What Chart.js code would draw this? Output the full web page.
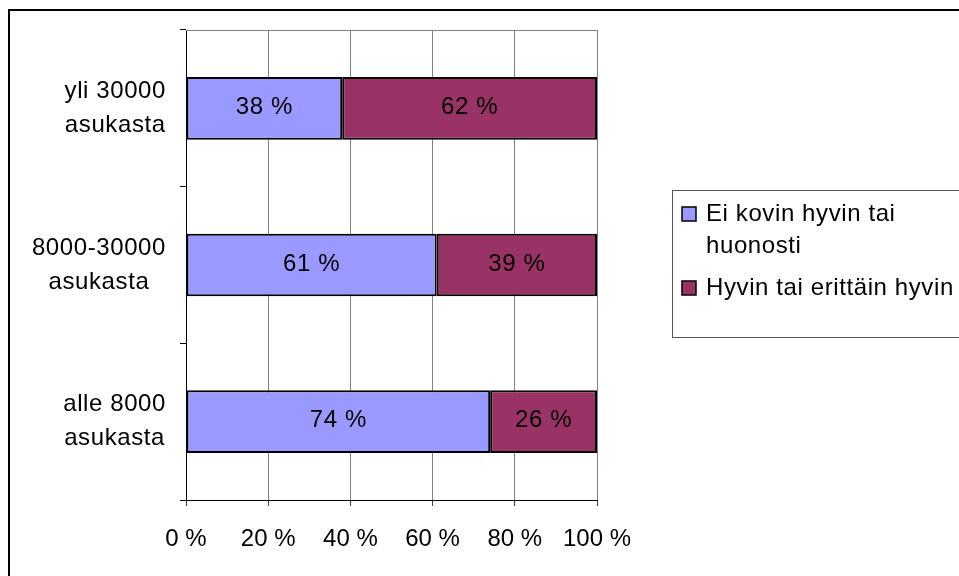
<!DOCTYPE html>
<html>
<head>
<meta charset="utf-8">
<script src="https://cdn.jsdelivr.net/npm/chart.js@4/dist/chart.umd.min.js"></script>
<style>
  html, body { margin: 0; padding: 0; background: #fff; }
  canvas { display: block; }
</style>
</head>
<body>
<canvas id="chart" width="959" height="576"></canvas>
<script>
const categories = [
  ["yli 30000", "asukasta"],
  ["8000-30000", "asukasta"],
  ["alle 8000", "asukasta"]
];
const seriesNames = ["Ei kovin hyvin tai huonosti", "Hyvin tai erittäin hyvin"];
const legendLines = [["Ei kovin hyvin tai", "huonosti"], ["Hyvin tai erittäin hyvin"]];
const notWell = [38, 61, 74];
const well = [62, 39, 26];
const xTicks = [0, 20, 40, 60, 80, 100];

const FONT = "'Liberation Sans', Arial, sans-serif";
const colors = ["#9999FF", "#993366"];

// outer frame, plot top border, y labels, bar values, legend
const extras = {
  id: "extras",
  beforeInit(chart) {
    chart.ctx.letterSpacing = "0.6px";
  },
  beforeDatasetsDraw(chart) {
    const ctx = chart.ctx, a = chart.chartArea;
    ctx.save();
    ctx.strokeStyle = "#808080";
    ctx.lineWidth = 1;
    ctx.beginPath();
    ctx.moveTo(a.left, a.top + 0.5);
    ctx.lineTo(a.right, a.top + 0.5);
    ctx.stroke();
    ctx.restore();
  },
  afterDraw(chart) {
    const ctx = chart.ctx;
    ctx.save();
    ctx.letterSpacing = "0.6px";
    ctx.fillStyle = "#000";
    ctx.font = "24px " + FONT;
    ctx.textBaseline = "middle";

    // y labels: lines centred on each other, block right aligned
    const yScale = chart.scales.y;
    categories.forEach((lines, i) => {
      const cy = yScale.getPixelForValue(i);
      const w = Math.max(...lines.map(l => ctx.measureText(l).width));
      const cx = 166 - w / 2;
      ctx.textAlign = "center";
      lines.forEach((l, j) => {
        ctx.fillText(l, cx, cy + (j - (lines.length - 1) / 2) * 34);
      });
    });

    // value labels in the bars
    chart.data.datasets.forEach((ds, di) => {
      chart.getDatasetMeta(di).data.forEach((el, i) => {
        ctx.textAlign = "center";
        ctx.fillText(ds.data[i] + " %", (el.x + el.base) / 2, el.y - 1);
      });
    });

    // legend
    ctx.strokeStyle = "#555";
    ctx.lineWidth = 1;
    ctx.strokeRect(672.5, 190.5, 400, 147);
    const itemY = [214, 288];
    chart.data.datasets.forEach((ds, di) => {
      const y = itemY[di];
      ctx.fillStyle = ds.backgroundColor;
      ctx.fillRect(682, y - 7, 14, 14);
      ctx.strokeStyle = "#000";
      ctx.lineWidth = 1.5;
      ctx.strokeRect(682, y - 7, 14, 14);
      ctx.fillStyle = "#000";
      ctx.textAlign = "left";
      legendLines[di].forEach((l, j) => {
        ctx.fillText(l, 706, y + j * 32);
      });
    });

    // outer frame
    ctx.strokeStyle = "#000";
    ctx.lineWidth = 2;
    ctx.beginPath();
    ctx.moveTo(9, 600);
    ctx.lineTo(9, 10);
    ctx.lineTo(980, 10);
    ctx.stroke();
    ctx.restore();
  }
};

new Chart(document.getElementById("chart"), {
  type: "bar",
  data: {
    labels: categories,
    datasets: [
      { label: seriesNames[0], data: notWell, backgroundColor: colors[0] },
      { label: seriesNames[1], data: well, backgroundColor: colors[1] }
    ].map(d => Object.assign(d, {
      borderColor: "#000",
      borderWidth: 2,
      borderSkipped: false,
      barPercentage: 0.4,
      categoryPercentage: 1
    }))
  },
  options: {
    indexAxis: "y",
    responsive: false,
    devicePixelRatio: 1,
    animation: false,
    layout: { padding: { top: 30, right: 362, left: 0, bottom: 0 } },
    plugins: { legend: { display: false }, tooltip: { enabled: false } },
    scales: {
      x: {
        stacked: true,
        min: 0,
        max: 100,
        afterBuildTicks: s => { s.ticks = xTicks.map(v => ({ value: v })); },
        afterFit: s => { s.height = 76; },
        grid: { color: "#808080", tickColor: "#404040", tickLength: 6, lineWidth: 1 },
        border: { color: "#000", width: 1 },
        ticks: {
          callback: v => v + " %",
          color: "#000",
          font: { family: FONT, size: 24 },
          padding: 19,
          maxRotation: 0
        }
      },
      y: {
        stacked: true,
        offset: true,
        afterFit: s => { s.width = 186; },
        grid: { offset: true, drawOnChartArea: false, tickLength: 6, color: "#000" },
        border: { color: "#000", width: 1 },
        ticks: { display: false }
      }
    }
  },
  plugins: [extras]
});
</script>
</body>
</html>
